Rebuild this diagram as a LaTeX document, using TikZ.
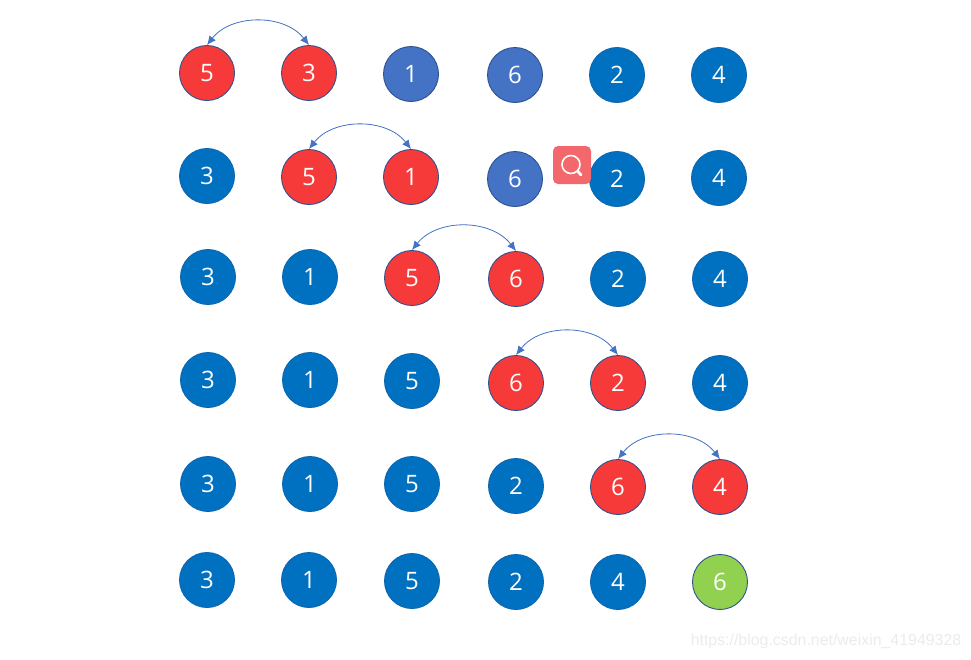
\documentclass[tikz,border=0pt]{standalone}
\usepackage{fontspec}
\setmainfont{Open Sans}
\usetikzlibrary{arrows.meta}
\definecolor{ballblue}{HTML}{0070C0}
\definecolor{ballmid}{HTML}{4472C4}
\definecolor{ballred}{HTML}{F63A3A}
\definecolor{ballgreen}{HTML}{92D050}
\definecolor{ballline}{HTML}{2F528F}
\definecolor{iconred}{HTML}{F2686C}
\tikzset{
  ball/.style={circle,draw=ballline,line width=0.9pt,minimum size=55pt,inner sep=0pt,text=white,font=\fontsize{24}{24}\selectfont},
  blueball/.style={ball,fill=ballblue,draw=ballblue!70!ballline},
  midball/.style={ball,fill=ballmid},
  redball/.style={ball,fill=ballred},
  greenball/.style={ball,fill=ballgreen},
  swaparc/.style={ballmid,line width=0.8pt,{Latex[length=9pt,width=8pt]}-{Latex[length=9pt,width=8pt]},bend left=52}
}
\begin{document}
\begin{tikzpicture}[x=1pt,y=-1pt]
  \useasboundingbox (0,0) rectangle (971,659);
  % row 1
  \node[redball] (a1) at (207,73) {5};
  \node[redball] (a2) at (309,73) {3};
  \node[midball] (a3) at (411,74) {1};
  \node[midball] (a4) at (515,75) {6};
  \node[blueball] (a5) at (617,75) {2};
  \node[blueball] (a6) at (719,75) {4};
  % row 2
  \node[blueball] (b1) at (207,176) {3};
  \node[redball] (b2) at (309,177) {5};
  \node[redball] (b3) at (411,177) {1};
  \node[midball] (b4) at (515,179) {6};
  \node[blueball] (b5) at (617,179) {2};
  \node[blueball] (b6) at (719,178) {4};
  % row 3
  \node[blueball] (c1) at (208,277) {3};
  \node[blueball] (c2) at (310,277) {1};
  \node[redball] (c3) at (412,278) {5};
  \node[redball] (c4) at (516,279) {6};
  \node[blueball] (c5) at (618,279) {2};
  \node[blueball] (c6) at (720,279) {4};
  % row 4
  \node[blueball] (d1) at (208,380) {3};
  \node[blueball] (d2) at (310,380) {1};
  \node[blueball] (d3) at (412,381) {5};
  \node[redball] (d4) at (516,383) {6};
  \node[redball] (d5) at (618,383) {2};
  \node[blueball] (d6) at (720,383) {4};
  % row 5
  \node[blueball] (e1) at (208,484) {3};
  \node[blueball] (e2) at (310,484) {1};
  \node[blueball] (e3) at (412,484) {5};
  \node[blueball] (e4) at (516,486) {2};
  \node[redball] (e5) at (618,487) {6};
  \node[redball] (e6) at (720,487) {4};
  % row 6
  \node[blueball] (f1) at (207,580) {3};
  \node[blueball] (f2) at (309,580) {1};
  \node[blueball] (f3) at (412,581) {5};
  \node[blueball] (f4) at (516,582) {2};
  \node[blueball] (f5) at (618,582) {4};
  \node[greenball] (f6) at (720,582) {6};
  % swaps
  \draw[swaparc] (a1.north) to (a2.north);
  \draw[swaparc] (b2.north) to (b3.north);
  \draw[swaparc] (c3.north) to (c4.north);
  \draw[swaparc] (d4.north) to (d5.north);
  \draw[swaparc] (e5.north) to (e6.north);
  % search icon
  \fill[iconred,rounded corners=5pt] (553,146) rectangle (591,184);
  \draw[white,line width=1.6pt] (571,164.5) circle (9);
  \draw[white,line width=2.8pt,line cap=round] (577.5,171) -- (581,175);
  % watermark
  \node[text=black!8,font=\fontsize{15.9}{16}\selectfont\fontspec{Liberation Sans},inner sep=0pt] (mark) at (826,641) {https://blog.csdn.net/weixin\_41949328};
\end{tikzpicture}
\end{document}
